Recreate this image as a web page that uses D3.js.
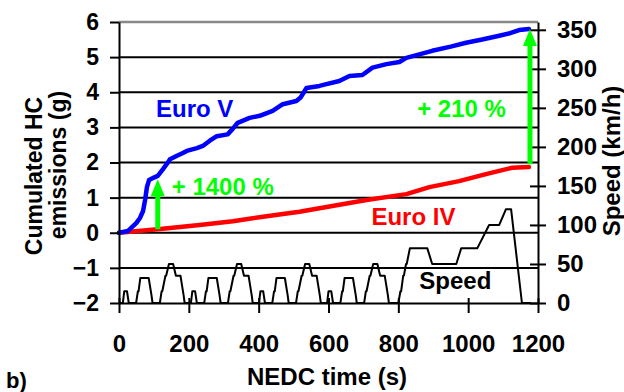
<!DOCTYPE html>
<html>
<head>
<meta charset="utf-8">
<script src="https://cdn.jsdelivr.net/npm/d3@7"></script>
<style>
  html, body { margin: 0; padding: 0; background: #fff; }
  svg { display: block; }
  text { font-family: "Liberation Sans", Arial, sans-serif; font-weight: bold; }
</style>
</head>
<body>
<svg id="chart" width="624" height="392"></svg>
<script>
// ---------- DATA ----------
const xTicks = [0, 200, 400, 600, 800, 1000, 1200];
const yLeftTicks = [-2, -1, 0, 1, 2, 3, 4, 5, 6];
const yRightTicks = [0, 50, 100, 150, 200, 250, 300, 350];

// Euro V cumulated HC (g) vs time (s)
const euro5Time = [0, 26, 50, 60, 69, 75, 80, 86, 100, 111, 125, 137, 146, 166, 183, 194, 223, 240, 260, 280, 311, 325, 340, 374, 403, 440, 469, 508, 520, 537, 574, 594, 631, 660, 697, 726, 766, 803, 823, 860, 897, 950, 994, 1040, 1089, 1120, 1146, 1174];
const euro5HC   = [0, 0.05, 0.28, 0.42, 0.62, 0.95, 1.3, 1.5, 1.57, 1.62, 1.8, 1.96, 2.09, 2.19, 2.27, 2.33, 2.41, 2.47, 2.62, 2.75, 2.8, 2.95, 3.13, 3.27, 3.33, 3.47, 3.66, 3.75, 3.85, 4.12, 4.18, 4.23, 4.32, 4.46, 4.49, 4.7, 4.8, 4.86, 4.98, 5.08, 5.18, 5.3, 5.41, 5.5, 5.61, 5.68, 5.77, 5.8];

// Euro IV cumulated HC (g) vs time (s)
const euro4Time = [0, 111, 231, 326, 423, 480, 517, 574, 611, 709, 823, 889, 974, 1051, 1126, 1174];
const euro4HC   = [0, 0.1, 0.22, 0.33, 0.47, 0.55, 0.6, 0.7, 0.76, 0.93, 1.1, 1.3, 1.47, 1.67, 1.85, 1.87];

// NEDC speed (km/h) vs time (s)
const speedTime = [
  0, 11, 15, 23, 28, 49, 54, 56, 61, 85, 93, 96, 117, 122, 124, 133, 135, 143, 155, 163, 176, 185, 188, 195,
  206, 210, 218, 223, 244, 249, 251, 256, 280, 288, 291, 312, 317, 319, 328, 330, 338, 350, 358, 371, 380, 383, 390,
  401, 405, 413, 418, 439, 444, 446, 451, 475, 483, 486, 507, 512, 514, 523, 525, 533, 545, 553, 566, 575, 578, 585,
  596, 600, 608, 613, 634, 639, 641, 646, 670, 678, 681, 702, 707, 709, 718, 720, 728, 740, 748, 761, 770, 773, 780,
  800, 806, 808, 814, 816, 822, 824, 833, 883, 897, 966, 980, 1026, 1060, 1089, 1108, 1123, 1154, 1180
];
const speedKmh = [
  0, 0, 15, 15, 0, 0, 15, 15, 32, 32, 10, 0, 0, 15, 15, 35, 35, 50, 50, 35, 35, 10, 0, 0,
  0, 15, 15, 0, 0, 15, 15, 32, 32, 10, 0, 0, 15, 15, 35, 35, 50, 50, 35, 35, 10, 0, 0,
  0, 15, 15, 0, 0, 15, 15, 32, 32, 10, 0, 0, 15, 15, 35, 35, 50, 50, 35, 35, 10, 0, 0,
  0, 15, 15, 0, 0, 15, 15, 32, 32, 10, 0, 0, 15, 15, 35, 35, 50, 50, 35, 35, 10, 0, 0,
  0, 15, 15, 35, 35, 50, 50, 70, 70, 50, 50, 70, 70, 100, 100, 120, 120, 0, 0
];

// Increase arrows: [time, from HC, to HC]
const arrowTime = [111, 1177];
const arrowFrom = [0.1, 1.95];
const arrowTo   = [1.52, 5.8];

// Annotation labels (anchor in data units: time, HC)
const labelText  = ["Euro V", "Euro IV", "Speed", "+ 1400 %", "+ 210 %"];
const labelTime  = [106, 723, 860, 151, 854];
const labelHC    = [3.3, 0.22, -1.6, 1.07, 3.3];
const labelColor = ["#0000ff", "#ff0000", "#000000", "#00ff00", "#00ff00"];

// ---------- CHART ----------
const svg = d3.select("#chart");
const FONT = 23;

const x = d3.scaleLinear().domain([0, 1200]).range([119, 538]);
const yL = d3.scaleLinear().domain([-2, 6]).range([303, 22]);
const yR = d3.scaleLinear().domain([0, 360]).range([303, 22]);

// gridlines
svg.append("g").selectAll("line")
  .data(yLeftTicks.filter(d => d > -2))
  .join("line")
  .attr("x1", x(0)).attr("x2", x(1200))
  .attr("y1", d => yL(d)).attr("y2", d => yL(d))
  .attr("stroke", d => d === 6 ? "#888888" : "#000000")
  .attr("stroke-width", d => d === 6 ? 2.5 : 2);

// series
const lineGen = d3.line().curve(d3.curveLinear);

const speedPts = speedTime.map((t, i) => [x(t), yR(speedKmh[i])]);
svg.append("path").attr("d", lineGen(speedPts))
  .attr("fill", "none").attr("stroke", "#000").attr("stroke-width", 2)
  .attr("stroke-linejoin", "round");

const e4Pts = euro4Time.map((t, i) => [x(t), yL(euro4HC[i])]);
svg.append("path").attr("d", lineGen(e4Pts))
  .attr("fill", "none").attr("stroke", "#ff0000").attr("stroke-width", 4.5)
  .attr("stroke-linejoin", "round").attr("stroke-linecap", "round");

const e5Pts = euro5Time.map((t, i) => [x(t), yL(euro5HC[i])]);
svg.append("path").attr("d", lineGen(e5Pts))
  .attr("fill", "none").attr("stroke", "#0000ff").attr("stroke-width", 4.5)
  .attr("stroke-linejoin", "round").attr("stroke-linecap", "round");

// axes
const axL = svg.append("g").attr("transform", `translate(${x(0)},0)`)
  .call(d3.axisLeft(yL).tickValues(yLeftTicks).tickSize(9).tickSizeOuter(0).tickPadding(11).tickFormat(d3.format("d")));
axL.select(".domain").attr("stroke", "#000").attr("stroke-width", 2);
axL.selectAll(".tick line").attr("stroke", "#000").attr("stroke-width", 2);
axL.selectAll(".tick text").attr("font-size", FONT).attr("fill", "#000")
  .attr("font-family", "Liberation Sans, Arial, sans-serif").attr("font-weight", "bold");

const axR = svg.append("g").attr("transform", `translate(${x(1200)},0)`)
  .call(d3.axisRight(yR).tickValues(yRightTicks).tickSize(8).tickSizeOuter(0).tickPadding(11).tickFormat(d3.format("d")));
axR.select(".domain").attr("stroke", "#000").attr("stroke-width", 2);
axR.selectAll(".tick line").attr("x1", -8).attr("x2", 8).attr("stroke", "#000").attr("stroke-width", 2);
axR.selectAll(".tick text").attr("font-size", FONT + 1).attr("fill", "#000")
  .attr("font-family", "Liberation Sans, Arial, sans-serif").attr("font-weight", "bold");

const axB = svg.append("g").attr("transform", `translate(0,${yL(-2)})`)
  .call(d3.axisBottom(x).tickValues(xTicks).tickSize(10).tickSizeOuter(0).tickFormat(d3.format("d")));
axB.select(".domain").attr("stroke", "#000").attr("stroke-width", 2);
axB.selectAll(".tick line").attr("y1", -5).attr("y2", 10).attr("stroke", "#000").attr("stroke-width", 2);
axB.selectAll(".tick text").attr("y", 49).attr("dy", 0).attr("font-size", FONT + 1).attr("fill", "#000")
  .attr("font-family", "Liberation Sans, Arial, sans-serif").attr("font-weight", "bold");

// arrows
const arrowG = svg.append("g");
arrowTime.forEach((t, i) => {
  const ax = x(t), y0 = yL(arrowFrom[i]), y1 = yL(arrowTo[i]);
  const headH = 17, headW = 7;
  arrowG.append("line").attr("x1", ax).attr("x2", ax).attr("y1", y0).attr("y2", y1 + headH - 1)
    .attr("stroke", "#00ff00").attr("stroke-width", 5);
  arrowG.append("path")
    .attr("d", `M${ax},${y1} L${ax + headW},${y1 + headH} L${ax - headW},${y1 + headH} Z`)
    .attr("fill", "#00ff00");
});

// annotation labels
svg.append("g").selectAll("text")
  .data(labelText)
  .join("text")
  .attr("x", (d, i) => x(labelTime[i]))
  .attr("y", (d, i) => yL(labelHC[i]))
  .attr("fill", (d, i) => labelColor[i])
  .attr("font-size", FONT + 1)
  .text(d => d);

// axis titles
svg.append("text").attr("transform", "translate(42,176) rotate(-90)")
  .attr("text-anchor", "middle").attr("font-size", FONT).text("Cumulated HC");
svg.append("text").attr("transform", "translate(66,165) rotate(-90)")
  .attr("text-anchor", "middle").attr("font-size", FONT).text("emissions (g)");
svg.append("text").attr("transform", "translate(620,161) rotate(-90)")
  .attr("text-anchor", "middle").attr("font-size", FONT + 1).text("Speed (km/h)");
svg.append("text").attr("x", 327).attr("y", 385)
  .attr("text-anchor", "middle").attr("font-size", FONT + 1).text("NEDC time (s)");
svg.append("text").attr("x", 6).attr("y", 388)
  .attr("font-size", FONT - 1).text("b)");
</script>
</body>
</html>
